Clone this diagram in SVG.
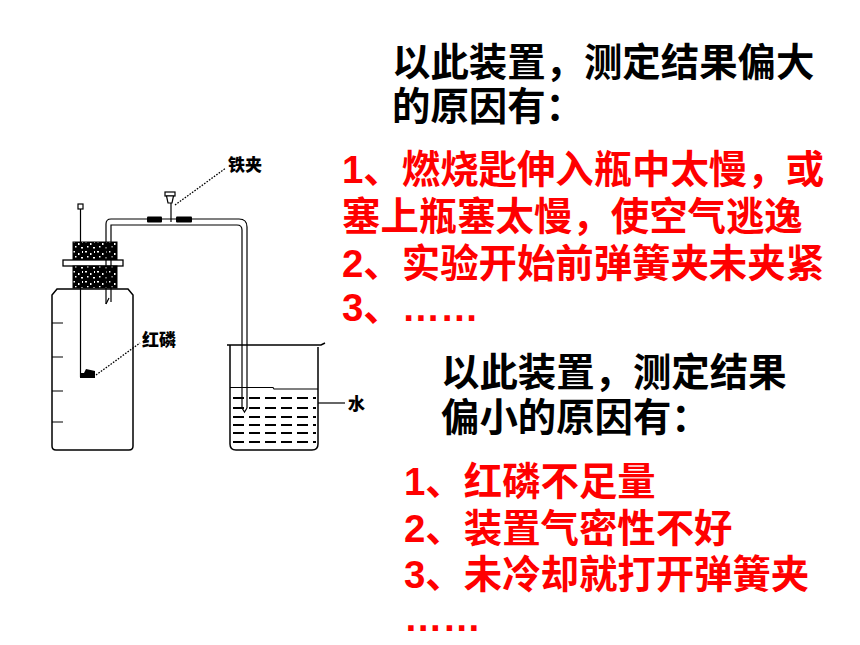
<svg xmlns="http://www.w3.org/2000/svg" width="860" height="645" viewBox="0 0 860 645">
<defs>
<style>
.t{font-family:"Liberation Sans","Noto Sans CJK SC",sans-serif;font-weight:bold;font-size:38.4px}
.blk{fill:#000}
.red{fill:#ff0000}
.lbl{font-family:"Noto Sans CJK SC",sans-serif;font-weight:900;font-size:17px;fill:#000}
.ln{fill:none;stroke:#000;stroke-width:1.5}
.thin{fill:none;stroke:#000;stroke-width:1.2}
.dot{fill:none;stroke:#000;stroke-width:1.3;stroke-dasharray:1.6 1.4}
.dash{fill:none;stroke:#000;stroke-width:1.8;stroke-dasharray:11 5}
</style>
<pattern id="cork" width="12" height="10" patternUnits="userSpaceOnUse">
<rect width="12" height="10" fill="#000"/>
<rect x="1" y="1" width="2" height="1.5" fill="#fff"/>
<rect x="6" y="3" width="1.5" height="2" fill="#fff"/>
<rect x="9" y="7" width="2" height="1.5" fill="#fff"/>
<rect x="3" y="6" width="1.5" height="1.5" fill="#fff"/>
<rect x="10" y="1" width="1" height="2" fill="#fff"/>
</pattern>
</defs>
<rect width="860" height="645" fill="#fff"/>

<g id="bottle">
<path class="ln" d="M57,289 L128,289 L133,295 L133,446 Q133,450 129,450 L56,450 Q52,450 52,446 L52,295 Z"/>
<path class="thin" d="M52,323 H63 M52,357 H63 M52,391 H63 M52,422 H63"/>
</g>

<g id="spoon">
<rect x="78" y="204" width="5" height="5" fill="#fff" stroke="#000" stroke-width="1.2"/>
<line class="thin" x1="80.5" y1="209" x2="80.5" y2="377"/>
<path d="M80,378 L95,378 L95,371 L86,369 L84,373 L80,373 Z" fill="#000"/>
</g>

<g id="stopper">
<rect x="73" y="242" width="44" height="18" fill="url(#cork)" stroke="#000" stroke-width="1"/>
<rect x="63" y="260" width="60" height="6" fill="#fff" stroke="#000" stroke-width="1.3"/>
<rect x="73" y="266" width="44" height="22" fill="url(#cork)" stroke="#000" stroke-width="1"/>
</g>

<g id="beaker">
<path class="ln" d="M227,345 L321,345 L325,343 M230,345 L230,444 Q230,450 236,450 L312,450 Q318,450 318,444 L318,347"/>
<path class="thin" d="M230,387.5 H273 L274,389 H318"/>
<path class="dash" d="M233,398 H316 M233,408 H316 M233,417 H316 M233,425 H316 M233,433 H316 M233,442 H316"/>
</g>

<g id="connectors">
<path class="thin" d="M106,304 L106,224 Q106,219 111,219 L239,219 Q247,219 247,227 L247,408"/>
<path class="thin" d="M111,302 L111,225 L237,225 Q242,225 242,230 L242,408"/>
<path class="thin" d="M106,304 L109,298 M242,408 L244.5,412 L247,408"/>
<rect x="147" y="216.5" width="15" height="6" rx="1" fill="#000"/>
<rect x="176" y="216.5" width="16" height="6" rx="1" fill="#000"/>
<line class="thin" x1="171" y1="203" x2="171" y2="222"/>
<rect x="165" y="192" width="10" height="4" fill="#fff" stroke="#000" stroke-width="1.2"/>
<path d="M166.5,196 L173.5,196 L172,203 L168,203 Z" fill="#fff" stroke="#000" stroke-width="1.2"/>
<path class="dot" d="M175,205 L226,168"/>
<path class="dot" d="M96,375 L140,343"/>
<path class="thin" d="M318,403 H345"/>
</g>

<g id="labels">
<text class="lbl" x="228" y="171" font-size="18.5">铁夹</text>
<text class="lbl" x="142" y="346">红磷</text>
<text class="lbl" x="348" y="410" font-size="19">水</text>
</g>

<g id="text-large">
<text class="t blk" x="392" y="76">以此装置，测定结果偏大</text>
<text class="t blk" x="392" y="120">的原因有：</text>
<text class="t red" x="342" y="183">1、燃烧匙伸入瓶中太慢，或</text>
<text class="t red" x="342" y="230">塞上瓶塞太慢，使空气逃逸</text>
<text class="t red" x="342" y="277">2、实验开始前弹簧夹未夹紧</text>
<text class="t red" x="342" y="321">3、……</text>
</g>

<g id="text-small">
<text class="t blk" x="441" y="386">以此装置，测定结果</text>
<text class="t blk" x="441" y="431">偏小的原因有：</text>
<text class="t red" x="404" y="495">1、红磷不足量</text>
<text class="t red" x="404" y="542">2、装置气密性不好</text>
<text class="t red" x="404" y="588">3、未冷却就打开弹簧夹</text>
<text class="t red" x="404" y="631">……</text>
</g>
</svg>
